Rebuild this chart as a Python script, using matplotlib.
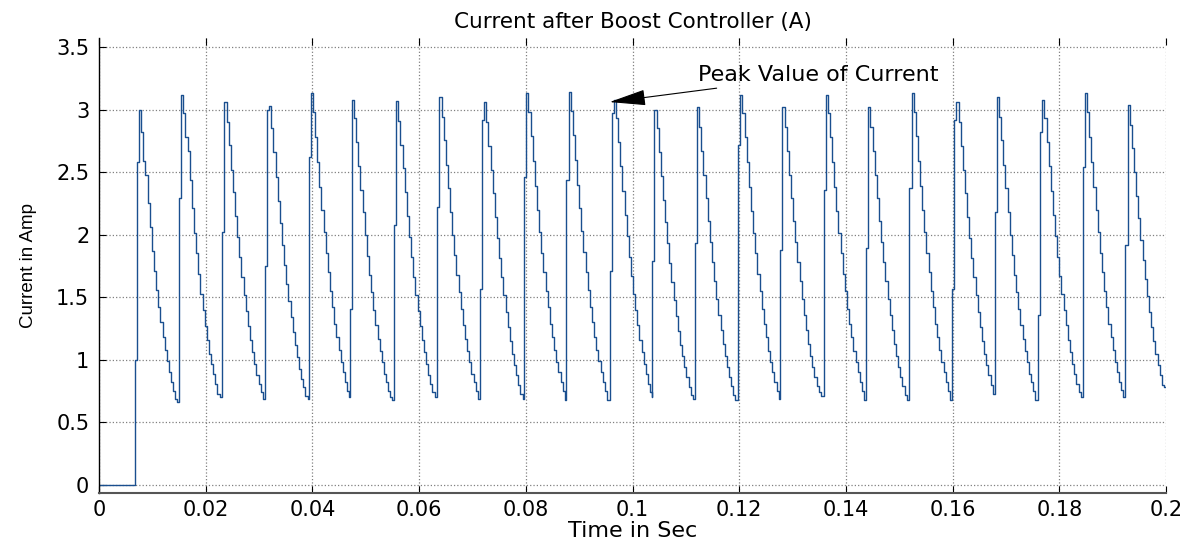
import matplotlib
matplotlib.use("Agg")
import matplotlib.pyplot as plt

plt.rcParams['font.family'] = ['DejaVu Sans']

# sample time of the staircase (s)
dt = 0.0004

# time at which each cycle jumps up (s)
cycle_starts = [0.0067, 0.0150, 0.0231, 0.0311, 0.0393, 0.0470, 0.0553, 0.0634,
                0.0714, 0.0797, 0.0876, 0.0957, 0.1037, 0.1117, 0.1198, 0.1277,
                0.1358, 0.1438, 0.1519, 0.1599, 0.1679, 0.1760, 0.1844, 0.1924]

# current levels (A) of each cycle, one value per sample
c01 = [1.00, 2.58, 3.00, 2.82, 2.59, 2.48, 2.25, 2.06, 1.87, 1.71, 1.56, 1.42, 1.30, 1.18, 1.08, 0.99, 0.90, 0.82, 0.75, 0.69, 0.66]
c02 = [2.29, 3.12, 2.97, 2.78, 2.67, 2.44, 2.21, 2.01, 1.85, 1.69, 1.53, 1.40, 1.27, 1.16, 1.05, 0.97, 0.89, 0.81, 0.73, 0.70]
c03 = [2.02, 3.06, 2.90, 2.72, 2.52, 2.34, 2.15, 1.98, 1.82, 1.66, 1.52, 1.39, 1.27, 1.16, 1.06, 0.97, 0.88, 0.81, 0.74, 0.69]
c04 = [1.75, 3.00, 3.03, 2.85, 2.66, 2.46, 2.27, 2.09, 1.92, 1.76, 1.61, 1.47, 1.34, 1.22, 1.12, 1.02, 0.93, 0.85, 0.78, 0.71, 0.69]
c05 = [2.62, 3.13, 2.98, 2.78, 2.58, 2.38, 2.20, 2.02, 1.85, 1.70, 1.55, 1.42, 1.29, 1.18, 1.08, 0.98, 0.90, 0.82, 0.75, 0.70]
c06 = [1.41, 3.08, 2.93, 2.74, 2.55, 2.36, 2.18, 2.00, 1.83, 1.68, 1.54, 1.40, 1.28, 1.17, 1.07, 0.98, 0.89, 0.82, 0.75, 0.70, 0.68]
c07 = [2.08, 3.07, 2.91, 2.72, 2.53, 2.34, 2.15, 1.98, 1.82, 1.66, 1.52, 1.39, 1.27, 1.16, 1.06, 0.97, 0.88, 0.81, 0.74, 0.70]
c08 = [2.22, 3.10, 2.94, 2.76, 2.56, 2.37, 2.18, 2.00, 1.84, 1.68, 1.54, 1.41, 1.28, 1.17, 1.07, 0.98, 0.89, 0.82, 0.75, 0.69]
c09 = [1.57, 2.92, 3.06, 2.90, 2.71, 2.52, 2.33, 2.14, 1.97, 1.81, 1.66, 1.52, 1.38, 1.26, 1.15, 1.05, 0.96, 0.88, 0.80, 0.73, 0.69]
c10 = [2.46, 3.13, 2.98, 2.79, 2.59, 2.39, 2.20, 2.02, 1.85, 1.70, 1.55, 1.42, 1.29, 1.18, 1.08, 0.98, 0.90, 0.82, 0.75, 0.68]
c11 = [2.44, 3.14, 2.99, 2.80, 2.60, 2.40, 2.21, 2.03, 1.86, 1.70, 1.56, 1.42, 1.30, 1.18, 1.08, 0.99, 0.90, 0.82, 0.75, 0.68]
c12 = [1.71, 2.97, 3.08, 2.93, 2.74, 2.55, 2.35, 2.16, 1.99, 1.82, 1.67, 1.53, 1.40, 1.28, 1.16, 1.06, 0.97, 0.89, 0.81, 0.74, 0.70]
c13 = [1.79, 3.00, 2.85, 2.66, 2.47, 2.28, 2.10, 1.93, 1.77, 1.62, 1.48, 1.35, 1.23, 1.12, 1.03, 0.94, 0.86, 0.78, 0.72, 0.69]
c14 = [1.93, 3.02, 2.86, 2.67, 2.48, 2.29, 2.11, 1.94, 1.78, 1.63, 1.49, 1.36, 1.24, 1.13, 1.03, 0.94, 0.86, 0.79, 0.72, 0.68]
c15 = [2.72, 3.12, 2.97, 2.78, 2.58, 2.38, 2.19, 2.01, 1.85, 1.69, 1.55, 1.41, 1.29, 1.18, 1.07, 0.98, 0.90, 0.82, 0.75, 0.69]
c16 = [1.88, 3.02, 2.86, 2.67, 2.48, 2.29, 2.11, 1.94, 1.78, 1.63, 1.49, 1.36, 1.24, 1.13, 1.03, 0.94, 0.86, 0.79, 0.74, 0.71]
c17 = [2.36, 3.12, 2.97, 2.78, 2.58, 2.38, 2.19, 2.01, 1.85, 1.69, 1.55, 1.41, 1.29, 1.18, 1.07, 0.98, 0.90, 0.82, 0.75, 0.68]
c18 = [1.89, 3.02, 2.86, 2.67, 2.48, 2.29, 2.11, 1.94, 1.78, 1.63, 1.49, 1.36, 1.24, 1.13, 1.03, 0.94, 0.86, 0.79, 0.72, 0.68]
c19 = [2.37, 3.13, 2.98, 2.79, 2.59, 2.39, 2.20, 2.02, 1.85, 1.70, 1.55, 1.42, 1.29, 1.18, 1.08, 0.98, 0.90, 0.82, 0.75, 0.68]
c20 = [1.57, 2.92, 3.06, 2.90, 2.71, 2.52, 2.33, 2.14, 1.97, 1.81, 1.66, 1.52, 1.38, 1.26, 1.15, 1.05, 0.96, 0.88, 0.80, 0.73, 0.69]
c21 = [2.18, 3.10, 2.94, 2.76, 2.56, 2.37, 2.18, 2.00, 1.84, 1.68, 1.54, 1.41, 1.28, 1.17, 1.07, 0.98, 0.89, 0.82, 0.75, 0.68]
c22 = [1.36, 2.82, 3.08, 2.93, 2.74, 2.55, 2.35, 2.16, 1.99, 1.82, 1.67, 1.53, 1.40, 1.28, 1.16, 1.06, 0.97, 0.89, 0.81, 0.74, 0.70]
c23 = [2.54, 3.13, 2.98, 2.78, 2.58, 2.38, 2.20, 2.02, 1.85, 1.70, 1.55, 1.42, 1.29, 1.18, 1.08, 0.98, 0.90, 0.82, 0.76, 0.70]
c24 = [1.92, 3.04, 2.88, 2.69, 2.50, 2.31, 2.13, 1.96, 1.80, 1.65, 1.51, 1.38, 1.26, 1.15, 1.05, 0.96, 0.88, 0.80, 0.78]
cycles = [c01, c02, c03, c04, c05, c06, c07, c08, c09, c10, c11, c12,
          c13, c14, c15, c16, c17, c18, c19, c20, c21, c22, c23, c24]

t_end = 0.2
xticks = [0, 0.02, 0.04, 0.06, 0.08, 0.1, 0.12, 0.14, 0.16, 0.18, 0.2]
xticklabels = ['0', '0.02', '0.04', '0.06', '0.08', '0.1', '0.12', '0.14', '0.16', '0.18', '0.2']
yticks = [0, 0.5, 1, 1.5, 2, 2.5, 3, 3.5]
yticklabels = ['0', '0.5', '1', '1.5', '2', '2.5', '3', '3.5']

peak_point = (0.0957, 3.06)
label_point = (0.1122, 3.276)

# build the staircase
t = [0.0]
y = [0.0]
for i, levels in enumerate(cycles):
    nxt = cycle_starts[i + 1] if i + 1 < len(cycle_starts) else t_end
    for k, v in enumerate(levels):
        tk = cycle_starts[i] + k * dt
        if tk >= nxt:
            break
        t.append(tk)
        y.append(v)
t.append(t_end)
y.append(y[-1])

fig = plt.figure(figsize=(11.93, 5.42), dpi=100)
ax = fig.add_axes([0.083, 0.0904, 0.8944, 0.8395])

ax.plot(t, y, drawstyle='steps-post', color='#1a4f8f', lw=1.0)

ax.set_xlim(0, t_end)
ax.set_ylim(-0.064, 3.572)
ax.set_xticks(xticks)
ax.set_xticklabels(xticklabels)
ax.set_yticks(yticks)
ax.set_yticklabels(yticklabels)
ax.tick_params(axis='both', labelsize=15, direction='in', length=5, pad=7)
ax.tick_params(axis='x', top=True, pad=5)
ax.grid(True, color='#808080', linestyle=':', linewidth=0.9)

ax.spines['top'].set_visible(False)
ax.spines['right'].set_visible(False)
ax.spines['bottom'].set_color('#555555')
ax.spines['bottom'].set_linewidth(1.5)
ax.spines['left'].set_linewidth(1.0)

ax.set_title('Current after Boost Controller (A)', fontsize=15.5, pad=7)
ax.set_xlabel('Time in Sec', fontsize=16, labelpad=1)
ax.set_ylabel('Current in Amp', fontsize=13.5, family=['Liberation Sans'], labelpad=14)

ax.annotate('Peak Value of Current', xy=peak_point, xytext=label_point,
            fontsize=16, ha='left', va='center',
            arrowprops=dict(arrowstyle='-|>,head_length=1.15,head_width=0.25',
                            mutation_scale=20, color='black', lw=0.8,
                            shrinkA=2, shrinkB=0))

fig.savefig('out.png', dpi=100)
